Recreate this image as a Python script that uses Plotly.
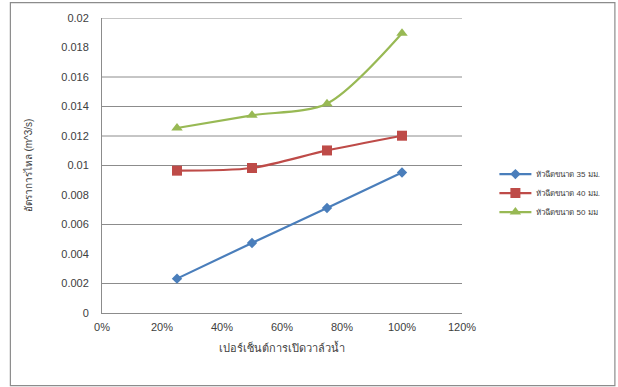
import plotly.graph_objects as go

valve_open = [0.25, 0.50, 0.75, 1.00]
nozzle_35 = [0.00233, 0.00475, 0.00712, 0.00953]
nozzle_40 = [0.00965, 0.00983, 0.01102, 0.01202]
nozzle_50 = [0.01254, 0.01340, 0.01419, 0.01896]
series_names = ["หัวฉีดขนาด 35 มม.", "หัวฉีดขนาด 40 มม.", "หัวฉีดขนาด 50 มม"]

x_tickvals = [0, 0.2, 0.4, 0.6, 0.8, 1.0, 1.2]
x_ticktext = ["0%", "20%", "40%", "60%", "80%", "100%", "120%"]
y_tickvals = [0, 0.002, 0.004, 0.006, 0.008, 0.01, 0.012, 0.014, 0.016, 0.018, 0.02]
y_ticktext = ["0", "0.002", "0.004", "0.006", "0.008", "0.01", "0.012", "0.014", "0.016", "0.018", "0.02"]
grid_values = [0.002, 0.006, 0.01, 0.012, 0.014, 0.016, 0.02]

x_title = "เปอร์เซ็นต์การเปิดวาล์วน้ำ"
y_title = "อัตราการไหล (m^3/s)"

colors = ["#4A7EBB", "#BE4B48", "#98B954"]
symbols = ["diamond", "square", "triangle-up"]
sizes = [8, 10, 10]

fig = go.Figure()
for name, ys, c, s, sz in zip(series_names, [nozzle_35, nozzle_40, nozzle_50], colors, symbols, sizes):
    fig.add_trace(go.Scatter(
        x=valve_open, y=ys, name=name, mode="lines+markers",
        line=dict(color=c, width=2.2, shape="spline", smoothing=0.8),
        marker=dict(symbol=s, size=sz, color=c),
    ))

font = "Liberation Sans, DejaVu Sans, sans-serif"
shapes = []
for g in grid_values:
    shapes.append(dict(type="line", xref="paper", yref="y", x0=0, x1=1, y0=g, y1=g,
                       line=dict(color="#8C8C8C", width=1), layer="below"))
shapes.append(dict(type="rect", xref="paper", yref="paper",
                   x0=-0.2545, x1=1.4247, y0=-0.2464, y1=1.0519,
                   line=dict(color="#8C8C8C", width=1.2)))

fig.update_layout(
    width=618, height=387,
    margin=dict(l=102, r=156, t=18, b=74),
    paper_bgcolor="white", plot_bgcolor="white",
    font=dict(family=font, size=11, color="#404040"),
    shapes=shapes,
    showlegend=True,
    legend=dict(x=1.09, y=0.52, xanchor="left", yanchor="top",
                font=dict(size=8, color="#404040"), bgcolor="rgba(0,0,0,0)",
                tracegroupgap=8, itemwidth=32),
    xaxis=dict(range=[0, 1.2], tickvals=x_tickvals, ticktext=x_ticktext,
               showgrid=False, zeroline=False, showline=True, linecolor="#8C8C8C",
               linewidth=1, ticks="", tickfont=dict(size=11), ticklabelstandoff=4,
               title=dict(text=x_title, font=dict(size=11), standoff=12)),
    yaxis=dict(range=[0, 0.02], tickvals=y_tickvals, ticktext=y_ticktext,
               showgrid=False, zeroline=False, showline=True, linecolor="#8C8C8C",
               linewidth=1, ticks="", ticklabelstandoff=10,
               tickfont=dict(size=11),
               title=dict(text=y_title, font=dict(size=10), standoff=26)),
)

fig.write_html("out.html")
